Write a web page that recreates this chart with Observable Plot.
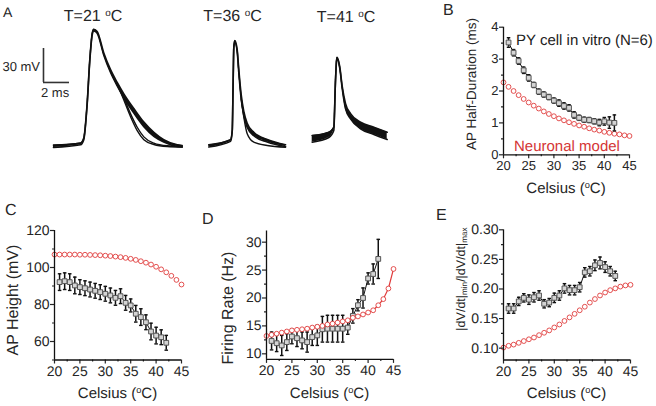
<!DOCTYPE html>
<html>
<head>
<meta charset="utf-8">
<script src="https://cdn.jsdelivr.net/npm/d3@7"></script>
<script src="https://cdn.jsdelivr.net/npm/@observablehq/plot@0.6"></script>
<style>
  html, body { margin: 0; padding: 0; background: #fff; }
  #root { position: relative; width: 656px; height: 406px; overflow: hidden; background: #fff;
          font-family: "Liberation Sans", Arial, Helvetica, sans-serif; color: #111;
          text-rendering: geometricPrecision; }
  .pnl { position: absolute; }
  .pnl svg { display: block; overflow: visible; }
  .t { position: absolute; line-height: 1; white-space: nowrap; font-weight: 400; }
  sup { font-size: 0.62em; vertical-align: 0.55em; line-height: 0; }
  sub { font-size: 0.65em; vertical-align: -0.3em; line-height: 0; }
</style>
</head>
<body>
<div id="root"></div>
<script>
// ---------------- DATA ----------------
const expT   = [21,22,23,24,25,26,27,28,29,30,31,32,33,34,35,36,37,38,39,40,41,42];
const modelT = [20,21,22,23,24,25,26,27,28,29,30,31,32,33,34,35,36,37,38,39,40,41,42,43,44,45];

// B: AP half-duration (ms)
const halfDurExp   = [3.52,3.20,2.94,2.65,2.41,2.19,1.98,1.89,1.81,1.70,1.62,1.53,1.47,1.25,1.16,1.10,1.09,1.05,1.01,1.05,1.01,1.00];
const halfDurErr   = [0.15,0.10,0.10,0.10,0.10,0.08,0.08,0.08,0.08,0.08,0.10,0.10,0.10,0.10,0.08,0.08,0.08,0.08,0.10,0.12,0.18,0.25];
const halfDurModel = [2.27,2.13,2.00,1.87,1.75,1.64,1.54,1.45,1.36,1.28,1.21,1.14,1.08,1.02,0.97,0.92,0.88,0.83,0.79,0.76,0.72,0.69,0.66,0.64,0.61,0.59];

// C: AP height (mV)
const heightExp   = [92.1,92.6,92.1,90.3,89.4,88.8,88.1,87.4,86.7,85.8,84.9,83.6,84.5,80.9,79.5,75.0,73.2,70.4,65.4,63.2,62.3,59.3];
const heightErr   = [4.5,4.5,4.5,4.5,4.0,4.0,4.0,4.0,4.0,4.0,4.0,4.0,4.0,4.0,3.5,4.5,4.5,4.0,4.5,4.5,4.0,4.0];
const heightModel = [107.0,107.0,107.0,107.0,107.0,106.9,106.9,106.8,106.7,106.6,106.4,106.2,105.9,105.6,105.2,104.7,104.1,103.4,102.6,101.6,100.4,99.0,97.4,95.5,93.3,90.8];

// D: firing rate (Hz)
const rateExp   = [12.3,11.9,11.5,12.1,13.1,12.8,12.4,12.1,13.0,13.3,14.4,14.5,14.5,14.5,14.5,14.7,16.8,18.7,20.0,23.5,24.3,27.0];
const rateErr   = [1.6,1.5,1.8,1.5,1.3,1.5,1.5,1.8,1.5,1.8,2.3,2.4,2.4,2.4,2.4,1.2,1.3,1.0,1.8,1.0,1.8,3.5];
const rateModel = [13.2,13.4,13.6,13.8,14.0,14.2,14.3,14.4,14.5,14.7,14.85,15.0,15.25,15.4,15.6,15.8,16.0,16.45,16.7,17.05,17.4,17.8,18.7,19.8,21.7,25.2];

// E: |dV/dt|min / |dV/dt|max
const ratioExp   = [0.167,0.167,0.179,0.185,0.182,0.186,0.189,0.175,0.177,0.185,0.189,0.201,0.198,0.198,0.203,0.228,0.230,0.240,0.244,0.237,0.230,0.222];
const ratioErr   = [0.008,0.008,0.007,0.007,0.008,0.008,0.008,0.007,0.007,0.008,0.008,0.008,0.008,0.008,0.008,0.008,0.008,0.009,0.010,0.009,0.008,0.008];
const ratioModel = [0.101,0.104,0.106,0.109,0.112,0.115,0.118,0.122,0.126,0.130,0.135,0.140,0.146,0.152,0.158,0.164,0.170,0.177,0.183,0.189,0.194,0.198,0.201,0.204,0.206,0.207];

// A: action potential traces (time in ms, voltage in mV relative to baseline)
const t21   = [1.0,3.08,3.33,3.59,3.79,3.98,4.10,4.36,4.87,5.38,5.90,6.41,7.18,7.95,8.72,9.48,10.52,10.9];
const v21hi = [1.2,3.0,7.5,38.5,76.5,100,103.5,101.5,82.5,68,56.5,46.5,33.5,21.5,12.5,6.0,1.5,0.8];
const v21lo = [-0.8,1.5,6.0,37,75,98.5,102,100,80.5,65.5,53.5,43.0,29.5,17.5,9.0,4.0,0.0,-0.5];
const t21fast  = [5.90,6.41,6.92,7.44,7.95,8.72,9.75,10.9];
const v21fastA = [55.3,41.0,26.5,14.0,6.0,1.8,0.0,-0.5];
const v21fastB = [55.3,43.0,29.0,17.0,8.5,3.0,0.6,0.0];

const t36   = [12.95,14.62,14.75,14.82,14.87,14.95,15.13,15.25,15.44,15.64,15.9,16.41,17.44,18.85];
const v36hi = [1.5,6.0,14.5,58.5,88,93.5,85.5,68.5,45.5,31,20.5,12.5,6.2,1.5];
const v36lo = [-0.5,4.5,13.5,57.5,87,92,83.5,65.5,41.5,27.5,17,9.5,4.0,0.0];
const t36fast = [15.44,15.64,15.9,16.41,17.44,18.85];
const v36fast = [42,25.9,11.2,3.8,0.9,-0.6];

const t41   = [20.9,22.18,22.56,22.69,22.77,22.82,23.02,23.21,23.46,23.85,24.62,25.64,26.67];
const v41hi = [9.7,12.6,17,58.2,75.9,78.8,70.5,53,38,29,21.4,17,12.6];
const v41lo = [3.8,7.9,14.1,57,75,77.5,69,51,33.5,24.4,15.6,10.6,6.2];

const scaleBar = {t0: 0.23, v0: 56.5, ms: 2, mV: 30};

const xMajor = [20,25,30,35,40,45];
const xMinor = [22.5,27.5,32.5,37.5,42.5];

// ---------------- HELPERS ----------------
const root = document.getElementById("root");
const FONT = '"Liberation Sans", Arial, Helvetica, sans-serif';
const RED = "#e03c3c";
const INK = "#111";
const TXT = "#262626";

function place(node, left, top) {
  const d = document.createElement("div");
  d.className = "pnl";
  d.style.left = left + "px";
  d.style.top = top + "px";
  d.appendChild(node);
  root.appendChild(d);
}
function txt(html, x, baseline, size, align = "left", color = TXT) {
  const d = document.createElement("div");
  d.className = "t";
  d.innerHTML = html;
  d.style.fontSize = size + "px";
  d.style.color = color;
  d.style.left = x + "px";
  d.style.top = (baseline - 0.846 * size) + "px";
  if (align === "center") d.style.transform = "translateX(-50%)";
  if (align === "right") d.style.transform = "translateX(-100%)";
  root.appendChild(d);
}
function vtxt(html, cx, cy, size) {
  const d = document.createElement("div");
  d.className = "t";
  d.innerHTML = html;
  d.style.fontSize = size + "px";
  d.style.color = TXT;
  d.style.left = cx + "px";
  d.style.top = cy + "px";
  d.style.transform = "translate(-50%,-50%) rotate(-90deg)";
  root.appendChild(d);
}
const rows = (T, v, e) => T.map((t, i) => ({T: t, v: v[i], e: e ? e[i] : 0}));

function expMarks(data) {
  return [
    Plot.line(data, {x: "T", y: "v", stroke: INK, strokeWidth: 1}),
    Plot.ruleX(data, {x: "T", y1: d => d.v - d.e, y2: d => d.v + d.e, stroke: INK, strokeWidth: 1.5}),
    Plot.link(data, {x1: d => d.T - 0.35, x2: d => d.T + 0.35, y1: d => d.v + d.e, y2: d => d.v + d.e, stroke: INK, strokeWidth: 1.4}),
    Plot.link(data, {x1: d => d.T - 0.35, x2: d => d.T + 0.35, y1: d => d.v - d.e, y2: d => d.v - d.e, stroke: INK, strokeWidth: 1.4}),
    Plot.dot(data, {x: "T", y: "v", symbol: "square", r: 2.7, fill: "#d4d4d4", stroke: "#555", strokeWidth: 1})
  ];
}
function modelMarks(data, withLine) {
  return [
    ...(withLine ? [Plot.line(data, {x: "T", y: "v", stroke: RED, strokeWidth: 1.2})] : []),
    Plot.dot(data, {x: "T", y: "v", r: 2.4, stroke: RED, fill: "white", strokeWidth: 0.9})
  ];
}
function panel(cfg) {
  const fs = cfg.fontSize;
  return Plot.plot({
    width: cfg.w, height: cfg.h,
    marginLeft: cfg.ml, marginRight: cfg.mr, marginTop: cfg.mt, marginBottom: cfg.mb,
    style: {fontFamily: FONT, fontSize: fs + "px", color: TXT, background: "transparent", overflow: "visible"},
    x: {domain: [20, 45]},
    y: {domain: cfg.yDomain},
    marks: [
      ...cfg.marks,
      Plot.axisX({ticks: xMinor, tickSize: 2, tickFormat: () => "", label: null, strokeWidth: 1.2}),
      Plot.axisX({ticks: xMajor, tickSize: 4, tickPadding: 2, label: null, fontSize: fs, strokeWidth: 1.2}),
      Plot.axisY({ticks: cfg.yMinor, tickSize: 2, tickFormat: () => "", label: null, strokeWidth: 1.2}),
      Plot.axisY({ticks: cfg.yMajor, tickSize: 4, tickPadding: 1, label: null, fontSize: fs, strokeWidth: 1.2,
                  tickFormat: cfg.yFormat || (d => String(d))}),
      Plot.ruleX([20], {stroke: INK, strokeWidth: 1.3}),
      Plot.ruleY([cfg.yDomain[0]], {stroke: INK, strokeWidth: 1.3})
    ]
  });
}

// ---------------- PANEL A ----------------
const bundle = (t, hi, lo) => t.map((x, i) => ({t: x, hi: hi[i], lo: lo[i]}));
const b21 = bundle(t21, v21hi, v21lo);
const b36 = bundle(t36, v36hi, v36lo);
const b41 = bundle(t41, v41hi, v41lo);
const f21 = t21fast.map((x, i) => ({t: x, a: v21fastA[i], b: v21fastB[i]}));
const f36 = t36fast.map((x, i) => ({t: x, a: v36fast[i]}));
const bundleMarks = b => [
  Plot.areaY(b, {x: "t", y1: "lo", y2: "hi", fill: INK, curve: "monotone-x"}),
  Plot.line(b, {x: "t", y: "hi", stroke: INK, strokeWidth: 1.6, curve: "monotone-x"}),
  Plot.line(b, {x: "t", y: "lo", stroke: INK, strokeWidth: 1.6, curve: "monotone-x"})
];
const plotA = Plot.plot({
  width: 360, height: 190, margin: 0,
  style: {background: "transparent", overflow: "visible"},
  x: {domain: [0, 360 / 13], axis: null},
  y: {domain: [-44 / 1.1333, 146 / 1.1333], axis: null},
  marks: [
    ...bundleMarks(b21),
    Plot.line(f21, {x: "t", y: "a", stroke: INK, strokeWidth: 1.4, curve: "monotone-x"}),
    Plot.line(f21, {x: "t", y: "b", stroke: INK, strokeWidth: 1.4, curve: "monotone-x"}),
    ...bundleMarks(b36),
    Plot.line(f36, {x: "t", y: "a", stroke: INK, strokeWidth: 1.4, curve: "monotone-x"}),
    ...bundleMarks(b41),
    Plot.ruleX([scaleBar.t0], {y1: scaleBar.v0, y2: scaleBar.v0 + scaleBar.mV, stroke: "#333", strokeWidth: 1.6}),
    Plot.ruleY([scaleBar.v0], {x1: scaleBar.t0, x2: scaleBar.t0 + scaleBar.ms, stroke: "#333", strokeWidth: 1.6})
  ]
});
place(plotA, 40, 0);

// ---------------- PANEL B ----------------
place(panel({
  w: 216, h: 200, ml: 63, mr: 27, mt: 26.7, mb: 45.7, fontSize: 13,
  yDomain: [0, 4], yMajor: [0,1,2,3,4], yMinor: [0.5,1.5,2.5,3.5],
  marks: [...modelMarks(rows(modelT, halfDurModel)), ...expMarks(rows(expT, halfDurExp, halfDurErr))]
}), 440, 0);

// ---------------- PANEL C ----------------
place(panel({
  w: 215, h: 206, ml: 54, mr: 34, mt: 30, mb: 46.5, fontSize: 14,
  yDomain: [50, 120], yMajor: [60,80,100,120], yMinor: [50,70,90,110],
  marks: [...modelMarks(rows(modelT, heightModel)), ...expMarks(rows(expT, heightExp, heightErr))]
}), 0, 200);

// ---------------- PANEL D ----------------
place(panel({
  w: 220, h: 206, ml: 51, mr: 42, mt: 30.5, mb: 47.1, fontSize: 14,
  yDomain: [9, 32], yMajor: [10,15,20,25,30], yMinor: [12.5,17.5,22.5,27.5],
  marks: [...expMarks(rows(expT, rateExp, rateErr)), ...modelMarks(rows(modelT, rateModel), true)]
}), 215, 200);

// ---------------- PANEL E ----------------
place(panel({
  w: 221, h: 206, ml: 68, mr: 26, mt: 29.3, mb: 46.5, fontSize: 14,
  yDomain: [0.08, 0.30], yMajor: [0.10,0.15,0.20,0.25,0.30], yMinor: [0.125,0.175,0.225,0.275],
  yFormat: d => d.toFixed(2),
  marks: [...modelMarks(rows(modelT, ratioModel)), ...expMarks(rows(expT, ratioExp, ratioErr))]
}), 435, 200);

// ---------------- TEXT ----------------
txt("A", 3, 17, 14);
txt("T=21 <sup>o</sup>C", 93, 23, 16, "center");
txt("T=36 <sup>o</sup>C", 232.5, 23, 16, "center");
txt("T=41 <sup>o</sup>C", 346, 24, 16, "center");
txt("30 mV", 40, 70.5, 13, "right");
txt("2 ms", 41, 97, 13);

txt("B", 443, 17, 16);
txt("PY cell in vitro (N=6)", 516, 46, 15, "left", "#222");
txt("Neuronal model", 514, 152, 15, "left", "#d43434");
vtxt("AP Half-Duration (ms)", 472, 84, 13.5);
txt("Celsius (<sup>o</sup>C)", 566, 193.5, 15, "center");

txt("C", 5, 217, 16);
vtxt("AP Height (mV)", 13.5, 300, 16);
txt("Celsius (<sup>o</sup>C)", 117.5, 399, 15, "center");

txt("D", 202, 226, 16);
vtxt("Firing Rate (Hz)", 228.5, 307.5, 16);
txt("Celsius (<sup>o</sup>C)", 329.5, 399, 15, "center");

txt("E", 436, 222, 16);
vtxt("|dV/dt|<sub>min</sub>/|dV/dt|<sub>max</sub>", 461, 279, 12.5);
txt("Celsius (<sup>o</sup>C)", 566.5, 399, 15, "center");
</script>
</body>
</html>
